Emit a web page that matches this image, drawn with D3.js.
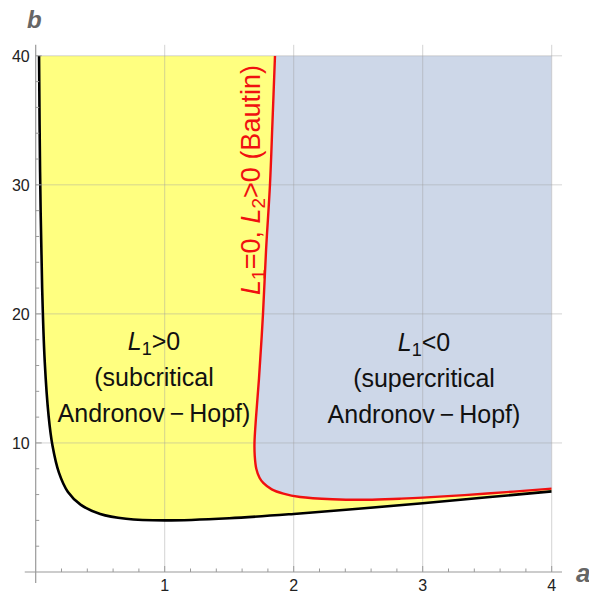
<!DOCTYPE html>
<html>
<head>
<meta charset="utf-8">
<script src="https://cdn.jsdelivr.net/npm/d3@7"></script>
<style>
  body { margin: 0; background: #fff; }
  text { font-family: "Liberation Sans", Arial, sans-serif; }
</style>
</head>
<body>
<div id="chart"></div>
<script>
// black curve: Andronov-Hopf boundary (a, b)
var hopfA = [0.026, 0.034, 0.05, 0.07, 0.1, 0.13, 0.18, 0.25, 0.35, 0.5, 0.7, 1.0, 1.5, 2.0, 2.5, 3.0, 3.5, 4.0]
var hopfB = [40, 31, 22, 16.3, 12.1, 9.8, 7.7, 6.2, 5.2, 4.5, 4.13, 4.0, 4.17, 4.5, 4.9, 5.33, 5.79, 6.25]

// red curve: L1 = 0 (Bautin)
var bautinA = [1.855, 1.836, 1.816, 1.786, 1.762, 1.731, 1.708, 1.696, 1.698, 1.71, 1.735, 1.764, 1.83, 1.92, 2.05, 2.3, 2.57, 2.82, 3.0, 3.5, 4.0]
var bautinB = [40, 35, 30, 25, 20, 15, 12, 10, 9, 8, 7.3, 6.9, 6.4, 6.07, 5.81, 5.64, 5.6, 5.68, 5.76, 6.08, 6.46]

var aTicks = [1, 2, 3, 4]
var bTicks = [10, 20, 30, 40]
var aMinor = d3.range(0, 4.01, 0.2)
var bMinor = d3.range(0, 40.1, 2)

var svg = d3.select("#chart")
    .append("svg")
    .attr("width", 589)
    .attr("height", 593)

var x = d3.scaleLinear().domain([0, 4]).range([35.7, 551.7])
var y = d3.scaleLinear().domain([0, 40]).range([572, 55.8])

var xPad = [-0.085, 4.08]
var yPad = [-0.85, 40.85]

var hopf = hopfA.map((a, i) => [a, hopfB[i]])
var bautin = bautinA.map((a, i) => [a, bautinB[i]])

var line = d3.line()
    .x(d => x(d[0]))
    .y(d => y(d[1]))
    .curve(d3.curveCatmullRom.alpha(0.5))

svg.append("clipPath").attr("id", "plotclip")
    .append("rect")
    .attr("x", x(0)).attr("y", y(40))
    .attr("width", x(4) - x(0)).attr("height", y(0) - y(40))

var fills = svg.append("g").attr("clip-path", "url(#plotclip)")

// yellow: above black, left of red
var yellowPath = line(hopf) + line(bautin.slice().reverse()).replace(/^M/, "L") + "Z"
fills.append("path")
    .attr("d", yellowPath)
    .attr("fill", "#ffff80")

// blue-gray: right of / above red
var bluePath = line(bautin) + "L" + x(4) + "," + y(40) + "Z"
fills.append("path")
    .attr("d", bluePath)
    .attr("fill", "#cdd7e8")

// grid lines
svg.append("g").selectAll("line")
    .data(aTicks)
    .join("line")
    .attr("x1", d => x(d)).attr("x2", d => x(d))
    .attr("y1", y(yPad[1])).attr("y2", y(0))
    .attr("stroke", "#a0a0a0")
    .attr("stroke-opacity", 0.45)
    .attr("stroke-width", 1)

svg.append("g").selectAll("line")
    .data(bTicks)
    .join("line")
    .attr("x1", x(0)).attr("x2", x(xPad[1]))
    .attr("y1", d => y(d)).attr("y2", d => y(d))
    .attr("stroke", "#a0a0a0")
    .attr("stroke-opacity", 0.45)
    .attr("stroke-width", 1)

// curves
var curves = svg.append("g").attr("clip-path", "url(#plotclip)")
curves.append("path")
    .attr("d", line(hopf))
    .attr("fill", "none")
    .attr("stroke", "#000")
    .attr("stroke-width", 2.6)

curves.append("path")
    .attr("d", line(bautin))
    .attr("fill", "none")
    .attr("stroke", "#f01010")
    .attr("stroke-width", 2.4)

// axes
var axisColor = "#9a9a9a"
svg.append("line")
    .attr("x1", x(xPad[0])).attr("x2", x(xPad[1]))
    .attr("y1", y(0)).attr("y2", y(0))
    .attr("stroke", axisColor).attr("stroke-width", 1.2)
svg.append("line")
    .attr("x1", x(0)).attr("x2", x(0))
    .attr("y1", y(yPad[0])).attr("y2", y(yPad[1]))
    .attr("stroke", axisColor).attr("stroke-width", 1.2)

svg.append("g").selectAll("line")
    .data(aMinor.filter(d => d > 0.01))
    .join("line")
    .attr("x1", d => x(d)).attr("x2", d => x(d))
    .attr("y1", y(0))
    .attr("y2", d => y(0) - (Math.abs(d - Math.round(d)) < 0.01 ? 6 : 3.5))
    .attr("stroke", axisColor).attr("stroke-width", 1)

svg.append("g").selectAll("line")
    .data(bMinor.filter(d => d > 0.1))
    .join("line")
    .attr("y1", d => y(d)).attr("y2", d => y(d))
    .attr("x1", x(0))
    .attr("x2", d => x(0) + (d % 10 === 0 ? 6 : 3.5))
    .attr("stroke", axisColor).attr("stroke-width", 1)

svg.append("g").selectAll("text")
    .data(aTicks)
    .join("text")
    .attr("x", d => x(d))
    .attr("y", y(0) + 19)
    .attr("text-anchor", "middle")
    .attr("font-size", 16)
    .attr("fill", "#222")
    .text(d => d)

svg.append("g").selectAll("text")
    .data(bTicks)
    .join("text")
    .attr("x", x(0) - 6)
    .attr("y", d => y(d) + 6)
    .attr("text-anchor", "end")
    .attr("font-size", 16)
    .attr("fill", "#222")
    .text(d => d)

// axis names
svg.append("text")
    .attr("x", 576).attr("y", 582)
    .attr("font-size", 26)
    .attr("font-weight", "bold")
    .attr("font-style", "italic")
    .attr("fill", "#666")
    .text("a")
svg.append("text")
    .attr("x", 27).attr("y", 28)
    .attr("font-size", 24)
    .attr("font-weight", "bold")
    .attr("font-style", "italic")
    .attr("fill", "#666")
    .text("b")

// region labels
function regionLabel(cx, top, sign, word) {
    var g = svg.append("g").attr("font-size", 25).attr("fill", "#111")
    var t = g.append("text").attr("x", cx).attr("y", top).attr("text-anchor", "middle")
    t.append("tspan").attr("font-style", "italic").text("L")
    t.append("tspan").attr("font-size", 18).attr("dy", 5).text("1")
    t.append("tspan").attr("dy", -5).text(sign + "0")
    g.append("text").attr("x", cx).attr("y", top + 36).attr("text-anchor", "middle").text(word)
    g.append("text").attr("x", cx).attr("y", top + 72).attr("text-anchor", "middle").text("Andronov\u2009\u2212\u2009Hopf)")
}
regionLabel(154, 350, ">", "(subcritical")
regionLabel(424, 351, "<", "(supercritical")

// rotated Bautin label
var bt = svg.append("text")
    .attr("transform", "translate(260,180) rotate(-90)")
    .attr("text-anchor", "middle")
    .attr("font-size", 27)
    .attr("fill", "#f01010")
bt.append("tspan").attr("font-style", "italic").text("L")
bt.append("tspan").attr("font-size", 19).attr("dy", 5).text("1")
bt.append("tspan").attr("dy", -5).text("=0, ")
bt.append("tspan").attr("font-style", "italic").text("L")
bt.append("tspan").attr("font-size", 19).attr("dy", 5).text("2")
bt.append("tspan").attr("dy", -5).text(">0 (Bautin)")
</script>
</body>
</html>
